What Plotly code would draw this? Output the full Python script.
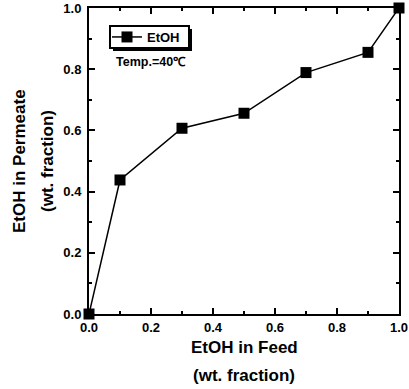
import plotly.graph_objects as go

feed = [0.0, 0.1, 0.3, 0.5, 0.7, 0.9, 1.0]
permeate = [0.0, 0.438, 0.607, 0.656, 0.789, 0.855, 1.0]
tick_vals = [0.0, 0.2, 0.4, 0.6, 0.8, 1.0]
tick_text = ["0.0", "0.2", "0.4", "0.6", "0.8", "1.0"]

FONT = "Liberation Sans, Arial, sans-serif"
W, H = 409, 389
L, R, T, B = 89, 10, 8, 75
PW, PH = W - L - R, H - T - B


def px_x(p):
    return (p - L) / PW


def px_y(p):
    return (H - B - p) / PH


fig = go.Figure()
fig.add_trace(go.Scatter(
    x=feed, y=permeate, mode="lines+markers", name="EtOH",
    line=dict(color="black", width=1.5),
    marker=dict(symbol="square", size=11, color="black"),
    cliponaxis=False,
))

axis_common = dict(
    range=[0, 1], showgrid=False, zeroline=False, automargin=False,
    showline=True, linecolor="black", linewidth=2, mirror="allticks",
    ticks="inside", ticklen=6, tickwidth=2, tickcolor="black",
    tickvals=tick_vals, ticktext=tick_text,
    tickfont=dict(family=FONT, size=13, color="black", weight="bold"),
    minor=dict(ticks="inside", ticklen=3, tickwidth=1.5, tickcolor="black", dtick=0.1, tick0=0),
)
fig.update_xaxes(**axis_common)
fig.update_yaxes(**axis_common, ticklabelstandoff=3)

anns = [
    dict(text="EtOH in Feed", x=0.5, y=px_y(347)),
    dict(text="(wt. fraction)", x=0.5, y=px_y(375)),
    dict(text="EtOH in Permeate", x=px_x(19), y=0.5, textangle=-90),
    dict(text="(wt. fraction)", x=px_x(47), y=0.5, textangle=-90),
]
for a in anns:
    fig.add_annotation(xref="paper", yref="paper", x=a["x"], y=a["y"], text=a["text"],
                       showarrow=False, xanchor="center", yanchor="middle",
                       textangle=a.get("textangle", 0),
                       font=dict(family=FONT, size=17, color="black", weight="bold"))

fig.add_annotation(xref="paper", yref="paper", x=px_x(114), y=px_y(62), text="Temp.=40℃",
                   showarrow=False, xanchor="left", yanchor="middle",
                   font=dict(family=FONT, size=12.5, color="black", weight="bold"))

# legend shadow and frame
fig.add_shape(type="rect", xref="paper", yref="paper",
              x0=px_x(113), x1=px_x(192), y0=px_y(51), y1=px_y(29),
              fillcolor="black", line=dict(width=0), layer="above")
fig.add_shape(type="rect", xref="paper", yref="paper",
              x0=px_x(110), x1=px_x(189), y0=px_y(48), y1=px_y(26),
              fillcolor="white", line=dict(color="black", width=2), layer="above")

fig.update_layout(
    width=W, height=H,
    margin=dict(l=L, r=R, t=T, b=B),
    paper_bgcolor="white", plot_bgcolor="white",
    showlegend=True,
    legend=dict(x=px_x(107), y=px_y(37), xanchor="left", yanchor="middle",
                bgcolor="rgba(0,0,0,0)", borderwidth=0,
                itemwidth=30, tracegroupgap=0,
                font=dict(family=FONT, size=13, color="black", weight="bold")),
)
fig.write_html("out.html", config={"displayModeBar": False},
               post_script="document.body.style.margin='0';")
